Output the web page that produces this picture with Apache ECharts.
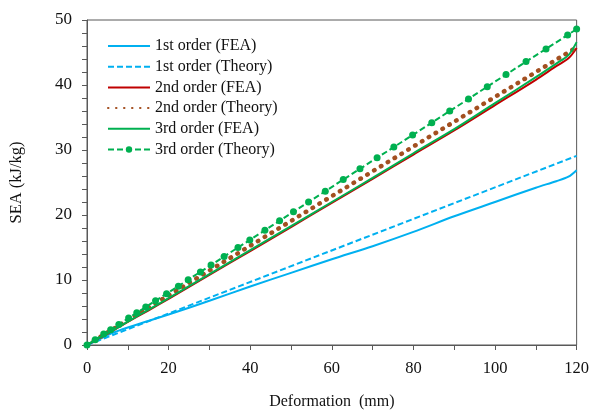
<!DOCTYPE html>
<html>
<head>
<meta charset="utf-8">
<script src="https://cdn.jsdelivr.net/npm/echarts@6/dist/echarts.min.js"></script>
<style>
  html, body { margin: 0; padding: 0; background: #fff; }
  #chart { width: 592px; height: 415px; }
</style>
</head>
<body>
<div id="chart"></div>
<script>
// values (deformation in mm, SEA in kJ/kg)
var seriesNames = ['1st order (FEA)', '1st order (Theory)', '2nd order (FEA)',
  '2nd order (Theory)', '3rd order (FEA)', '3rd order (Theory)'];

var feaX = [0, 3, 6, 10, 15, 20, 30, 40, 50, 60, 70, 80, 90, 100, 110, 115, 118, 120];
var fea1 = [0, 0.9, 1.8, 2.7, 3.7, 4.7, 6.8, 9.0, 11.1, 13.2, 15.2, 17.4, 19.8, 22.0, 24.2, 25.2, 25.9, 26.9];
var fea2 = [0, 1.05, 2.1, 3.55, 5.3, 7.1, 10.8, 14.45, 18.15, 21.85, 25.55, 29.3, 33.0, 36.9, 40.8, 42.9, 44.1, 45.7];
var fea3 = [0, 1.1, 2.15, 3.6, 5.4, 7.2, 10.9, 14.6, 18.3, 22.0, 25.7, 29.5, 33.2, 37.2, 41.2, 43.3, 44.6, 46.6];

var theoryX = [0, 120];
var theory1 = [0, 29.1];
var theory2 = [0, 45.8];

var theory3X = [0, 2, 4.1, 5.8, 7.8, 10.2, 12.2, 14.4, 16.8, 19.5, 22.4, 24.8, 27.8, 30.4,
  33.6, 37, 39.9, 43.6, 47.2, 50.6, 54.3, 58.4, 62.8, 66.9, 71.1, 75.2, 79.8, 84.5,
  88.9, 93.5, 98.1, 102.7, 107.6, 112.5, 117.8, 120];
var theory3 = [0, 0.8, 1.7, 2.35, 3.15, 4.15, 4.95, 5.85, 6.8, 7.9, 9.05, 10.05, 11.25, 12.3,
  13.6, 15.0, 16.15, 17.65, 19.1, 20.5, 22.0, 23.65, 25.45, 27.1, 28.8, 30.45, 32.3, 34.2,
  36.0, 37.85, 39.75, 41.6, 43.6, 45.55, 47.7, 48.6];

function pairs(xs, ys) {
  return xs.map(function(x, i) {
    return [x, ys[i]];
  });
}

var font = 'Liberation Serif';
var axisColor = '#595959';

// legend entries: lines without markers get an invisible symbol
var legendData = seriesNames.map(function(name, i) {
  if (i == 5) return { name: name };
  return { name: name, itemStyle: { opacity: 0 } };
});

var chart = echarts.init(document.getElementById('chart'));

chart.setOption({
  animation: false,
  textStyle: { fontFamily: font },
  grid: {
    left: 85,
    right: 14,
    top: 20,
    bottom: 67,
    show: true,
    borderColor: axisColor,
    borderWidth: 1
  },
  legend: {
    orient: 'vertical',
    left: 102,
    top: 33,
    itemWidth: 42,
    itemHeight: 8,
    itemGap: 4.7,
    textStyle: { fontFamily: font, fontSize: 16, color: '#111', lineHeight: 16 },
    data: legendData
  },
  xAxis: {
    type: 'value',
    min: 0,
    max: 120,
    interval: 20,
    name: 'Deformation  (mm)',
    nameLocation: 'middle',
    nameGap: 49,
    nameTextStyle: { fontFamily: font, fontSize: 16, color: '#111' },
    axisLine: { lineStyle: { color: axisColor } },
    axisTick: { show: true, length: 5, lineStyle: { color: axisColor } },
    minorTick: { show: true, splitNumber: 2, length: 5, lineStyle: { color: axisColor } },
    axisLabel: { fontFamily: font, fontSize: 16.5, color: '#111', margin: 15 },
    splitLine: { show: false }
  },
  yAxis: {
    type: 'value',
    min: 0,
    max: 50,
    interval: 10,
    name: 'SEA (kJ/kg)',
    nameLocation: 'middle',
    nameGap: 62,
    nameTextStyle: { fontFamily: font, fontSize: 16.5, color: '#111' },
    axisLine: { show: true, lineStyle: { color: axisColor } },
    axisTick: { show: true, length: 5, lineStyle: { color: axisColor } },
    minorTick: { show: true, splitNumber: 5, length: 5, lineStyle: { color: axisColor } },
    axisLabel: { fontFamily: font, fontSize: 17, color: '#111', margin: 15 },
    splitLine: { show: false }
  },
  series: [{
    name: seriesNames[0],
    type: 'line',
    symbol: 'none',
    smooth: 0.3,
    data: pairs(feaX, fea1),
    lineStyle: { color: '#00b0f0', width: 2 },
    itemStyle: { color: '#00b0f0' }
  }, {
    name: seriesNames[1],
    type: 'line',
    symbol: 'none',
    data: pairs(theoryX, theory1),
    lineStyle: { color: '#00b0f0', width: 2, type: [6, 3] },
    itemStyle: { color: '#00b0f0' }
  }, {
    name: seriesNames[2],
    type: 'line',
    symbol: 'none',
    smooth: 0.3,
    data: pairs(feaX, fea2),
    lineStyle: { color: '#c00000', width: 2 },
    itemStyle: { color: '#c00000' }
  }, {
    name: seriesNames[3],
    type: 'line',
    symbol: 'none',
    data: pairs(theoryX, theory2),
    lineStyle: { color: '#a34f20', width: 4.5, type: [0.5, 7.5], cap: 'round' },
    itemStyle: { color: '#a34f20' }
  }, {
    name: seriesNames[4],
    type: 'line',
    symbol: 'none',
    smooth: 0.3,
    data: pairs(feaX, fea3),
    lineStyle: { color: '#00b050', width: 2 },
    itemStyle: { color: '#00b050' }
  }, {
    name: seriesNames[5],
    type: 'line',
    symbol: 'circle',
    symbolSize: 7,
    data: pairs(theory3X, theory3),
    lineStyle: { color: '#00b050', width: 2, type: [6, 3] },
    itemStyle: { color: '#00b050' }
  }]
});
</script>
</body>
</html>
